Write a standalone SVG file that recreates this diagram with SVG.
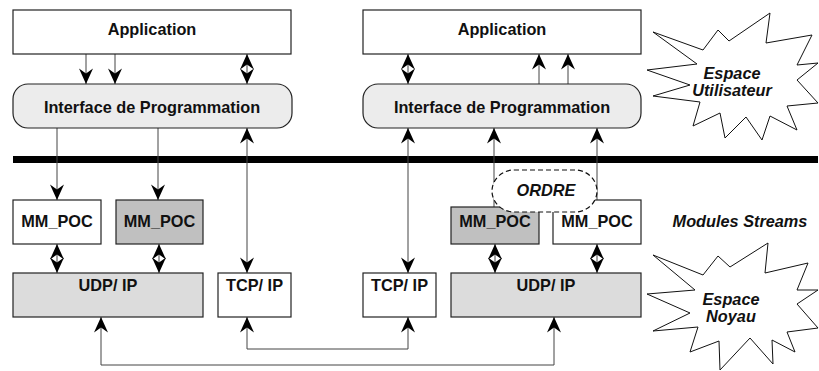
<svg xmlns="http://www.w3.org/2000/svg" width="819" height="371" viewBox="0 0 819 371">
  <style>
    .box { stroke: #222; stroke-width: 1.2; }
    .white { fill: #ffffff; }
    .light { fill: #ececec; }
    .udp { fill: #dcdcdc; }
    .dark { fill: #c0c0c0; }
    .lbl { font-family: "Liberation Sans", Arial, sans-serif; font-weight: bold; font-size: 16.3px; fill: #111; text-anchor: middle; }
    .it { font-style: italic; }
    .wire { stroke: #444; stroke-width: 1; fill: none; }
    .star { fill: #ffffff; stroke: #111; stroke-width: 1; }
  </style>
  <defs>
    <marker id="ah" viewBox="-17 -8 18 16" refX="0" refY="0" markerWidth="18" markerHeight="16" markerUnits="userSpaceOnUse" orient="auto-start-reverse">
      <path d="M0,0 L-15.5,-7 L-10.5,0 L-15.5,7 Z" fill="#000"/>
    </marker>
  </defs>

  <rect width="819" height="371" fill="#ffffff"/>

  <!-- kernel / user space separator -->
  <rect x="13" y="156" width="805" height="7" fill="#000"/>

  <!-- connectors -->
  <g id="connectors">
    <!-- left stack: application to API -->
    <line class="wire" x1="86" y1="54" x2="86" y2="84" marker-end="url(#ah)"/>
    <line class="wire" x1="115" y1="54" x2="115" y2="84" marker-end="url(#ah)"/>
    <line class="wire" x1="247" y1="54" x2="247" y2="84" marker-start="url(#ah)" marker-end="url(#ah)"/>
    <!-- right stack: API to application -->
    <line class="wire" x1="408" y1="54" x2="408" y2="84" marker-start="url(#ah)" marker-end="url(#ah)"/>
    <line class="wire" x1="539" y1="84" x2="539" y2="54" marker-end="url(#ah)"/>
    <line class="wire" x1="568" y1="84" x2="568" y2="54" marker-end="url(#ah)"/>
    <!-- API down to MM_POC modules -->
    <line class="wire" x1="57" y1="128" x2="57" y2="200" marker-end="url(#ah)"/>
    <line class="wire" x1="158" y1="128" x2="158" y2="200" marker-end="url(#ah)"/>
    <!-- API to TCP/IP -->
    <line class="wire" x1="247" y1="128" x2="247" y2="273" marker-start="url(#ah)" marker-end="url(#ah)"/>
    <line class="wire" x1="408" y1="128" x2="408" y2="273" marker-start="url(#ah)" marker-end="url(#ah)"/>
    <!-- MM_POC modules up to API -->
    <line class="wire" x1="494" y1="207" x2="494" y2="128" marker-end="url(#ah)"/>
    <line class="wire" x1="597" y1="200" x2="597" y2="128" marker-end="url(#ah)"/>
    <!-- MM_POC to UDP/IP -->
    <line class="wire" x1="57" y1="244" x2="57" y2="273" marker-start="url(#ah)" marker-end="url(#ah)"/>
    <line class="wire" x1="159" y1="244" x2="159" y2="273" marker-start="url(#ah)" marker-end="url(#ah)"/>
    <line class="wire" x1="495" y1="244" x2="495" y2="273" marker-start="url(#ah)" marker-end="url(#ah)"/>
    <line class="wire" x1="597" y1="244" x2="597" y2="273" marker-start="url(#ah)" marker-end="url(#ah)"/>
    <!-- network links -->
    <polyline class="wire" points="247,317 247,349 408,349 408,317" marker-start="url(#ah)" marker-end="url(#ah)"/>
    <polyline class="wire" points="101,317 101,365 554,365 554,317" marker-start="url(#ah)" marker-end="url(#ah)"/>
  </g>

  <!-- left stack -->
  <g id="app-left">
    <rect class="box white" x="13" y="10" width="278" height="44"/>
    <text class="lbl" x="152" y="35">Application</text>
  </g>
  <g id="api-left">
    <rect class="box light" x="13" y="84" width="279" height="44" rx="15" ry="15"/>
    <text class="lbl" x="152" y="113">Interface de Programmation</text>
  </g>
  <g id="mmpoc-left-1">
    <rect class="box white" x="13" y="200" width="88" height="44"/>
    <text class="lbl" x="57" y="227">MM_POC</text>
  </g>
  <g id="mmpoc-left-2">
    <rect class="box dark" x="116" y="200" width="87" height="44"/>
    <text class="lbl" x="159.5" y="227">MM_POC</text>
  </g>
  <g id="udp-left">
    <rect class="box udp" x="13" y="273" width="190" height="44"/>
    <text class="lbl" x="108" y="291">UDP/ IP</text>
  </g>
  <g id="tcp-left">
    <rect class="box white" x="218" y="273" width="73" height="44"/>
    <text class="lbl" x="254.5" y="291">TCP/ IP</text>
  </g>

  <!-- right stack -->
  <g id="app-right">
    <rect class="box white" x="363" y="10" width="278" height="44"/>
    <text class="lbl" x="502" y="35">Application</text>
  </g>
  <g id="api-right">
    <rect class="box light" x="363" y="84" width="278" height="44" rx="15" ry="15"/>
    <text class="lbl" x="502" y="113">Interface de Programmation</text>
  </g>
  <g id="mmpoc-right-1">
    <rect class="box dark" x="451" y="207" width="88" height="37"/>
    <text class="lbl" x="495" y="227">MM_POC</text>
  </g>
  <g id="mmpoc-right-2">
    <rect class="box white" x="553" y="200" width="88" height="44"/>
    <text class="lbl" x="597" y="227">MM_POC</text>
  </g>
  <g id="ordre">
    <rect x="492" y="170" width="105" height="42" rx="22" ry="21" fill="#ffffff" stroke="#111" stroke-width="1.2" stroke-dasharray="5,3"/>
    <text class="lbl it" x="546" y="196">ORDRE</text>
  </g>
  <g id="tcp-right">
    <rect class="box white" x="363" y="273" width="73" height="44"/>
    <text class="lbl" x="399.5" y="291">TCP/ IP</text>
  </g>
  <g id="udp-right">
    <rect class="box udp" x="451" y="273" width="190" height="44"/>
    <text class="lbl" x="546" y="291">UDP/ IP</text>
  </g>

  <!-- space labels -->
  <g id="espace-utilisateur">
    <polygon class="star" points="653,32 703,50 718,30 729,41 770,13 766,43 812,35 797,65 818,63 797,80 818,103 787,106 797,130 770,116 762,140 746,117 725,138 720,113 693,126 700,102 653,96 690,85 647,70 697,64"/>
    <text class="lbl it" x="732" y="79">Espace</text>
    <text class="lbl it" x="732" y="96">Utilisateur</text>
  </g>
  <g id="modules-streams">
    <text class="lbl it" x="740" y="227">Modules Streams</text>
  </g>
  <g id="espace-noyau">
    <polygon class="star" points="653,255 703,275 718,256 730,267 768,243 765,273 808,263 797,290 818,290 797,304 818,328 787,332 795,352 772,340 773,364 750,338 720,370 719,341 690,352 698,327 653,331 690,313 647,294 695,290"/>
    <text class="lbl it" x="731" y="305">Espace</text>
    <text class="lbl it" x="731" y="322">Noyau</text>
  </g>
</svg>
